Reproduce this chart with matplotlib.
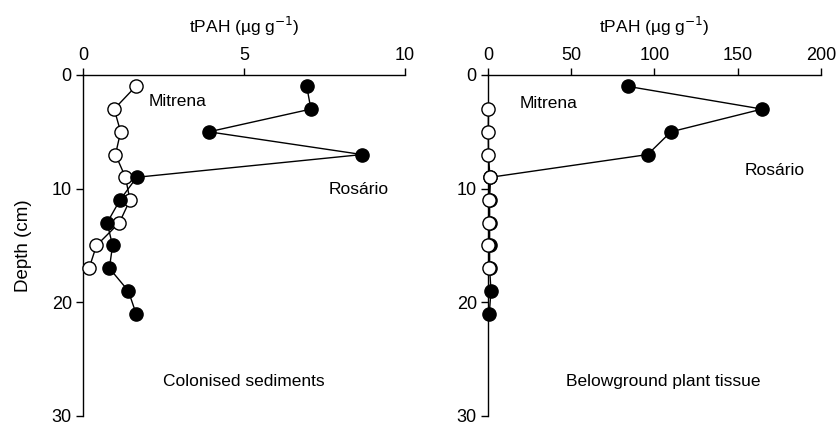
import matplotlib.pyplot as plt

plt.rcParams['font.family'] = ['Liberation Sans', 'DejaVu Sans']

# depth of each slice (cm)
depth = [1, 3, 5, 7, 9, 11, 13, 15, 17, 19, 21]

# colonised sediments, tPAH (ug/g)
sed_mitrena = [1.64, 0.97, 1.17, 1.01, 1.32, 1.46, 1.13, 0.42, 0.19]
sed_rosario = [6.95, 7.08, 3.91, 8.67, 1.67, 1.15, 0.75, 0.92, 0.82, 1.41, 1.65]

# belowground plant tissue, tPAH (ug/g)
tis_mitrena_depth = [3, 5, 7, 9, 11, 13, 15, 17]
tis_mitrena = [0.3, 0.2, 0.3, 1.2, 0.6, 0.6, 0.3, 0.8]
tis_rosario = [83.9, 164.6, 109.9, 95.9, 1.5, 1.0, 1.0, 1.0, 1.0, 1.8, 0.8]

FS = 12.5

fig = plt.figure(figsize=(8.38, 4.26), dpi=100)
ax1 = fig.add_axes([0.0990, 0.0235, 0.3842, 0.8005])
ax2 = fig.add_axes([0.5823, 0.0235, 0.3974, 0.8005])


def style(ax, xmax, xticks):
    ax.set_xlim(0, xmax)
    ax.set_ylim(30, 0)
    ax.set_xticks(xticks)
    ax.set_yticks([0, 10, 20, 30])
    ax.xaxis.tick_top()
    ax.xaxis.set_label_position('top')
    ax.spines['right'].set_visible(False)
    ax.spines['bottom'].set_visible(False)
    for s in ('top', 'left'):
        ax.spines[s].set_linewidth(1.0)
    ax.tick_params(axis='both', direction='out', length=5, width=1.0,
                   labelsize=13, pad=3)
    ax.set_xlabel('tPAH (\u00b5g g$^{\u22121}$)', fontsize=FS, labelpad=10)


style(ax1, 10, [0, 5, 10])
style(ax2, 200, [0, 50, 100, 150, 200])

# colonised sediments: filled on top
ax1.plot(sed_mitrena, depth[:len(sed_mitrena)], '-o', color='black', lw=1,
         mfc='white', mec='black', mew=1, ms=9.5, zorder=3, clip_on=False)
ax1.plot(sed_rosario, depth, '-o', color='black', lw=1,
         mfc='black', mec='black', mew=1, ms=9.5, zorder=4, clip_on=False)

# plant tissue: open on top
ax2.plot(tis_rosario, depth, '-o', color='black', lw=1,
         mfc='black', mec='black', mew=1, ms=9.5, zorder=3, clip_on=False)
ax2.plot(tis_mitrena, tis_mitrena_depth, '-o', color='black', lw=1,
         mfc='white', mec='black', mew=1, ms=9.5, zorder=4, clip_on=False)

ax1.set_ylabel('Depth (cm)', fontsize=13.5, labelpad=14)

ax1.text(2.05, 2.35, 'Mitrena', fontsize=FS, va='center', ha='left')
ax1.text(7.64, 10.1, 'Ros\u00e1rio', fontsize=FS, va='center', ha='left')
ax1.text(5.0, 27.0, 'Colonised sediments', fontsize=FS, va='center', ha='center')

ax2.text(19.2, 2.5, 'Mitrena', fontsize=FS, va='center', ha='left')
ax2.text(154.4, 8.4, 'Ros\u00e1rio', fontsize=FS, va='center', ha='left')
ax2.text(105.5, 27.0, 'Belowground plant tissue', fontsize=FS, va='center', ha='center')

fig.savefig('out.png', dpi=100)
